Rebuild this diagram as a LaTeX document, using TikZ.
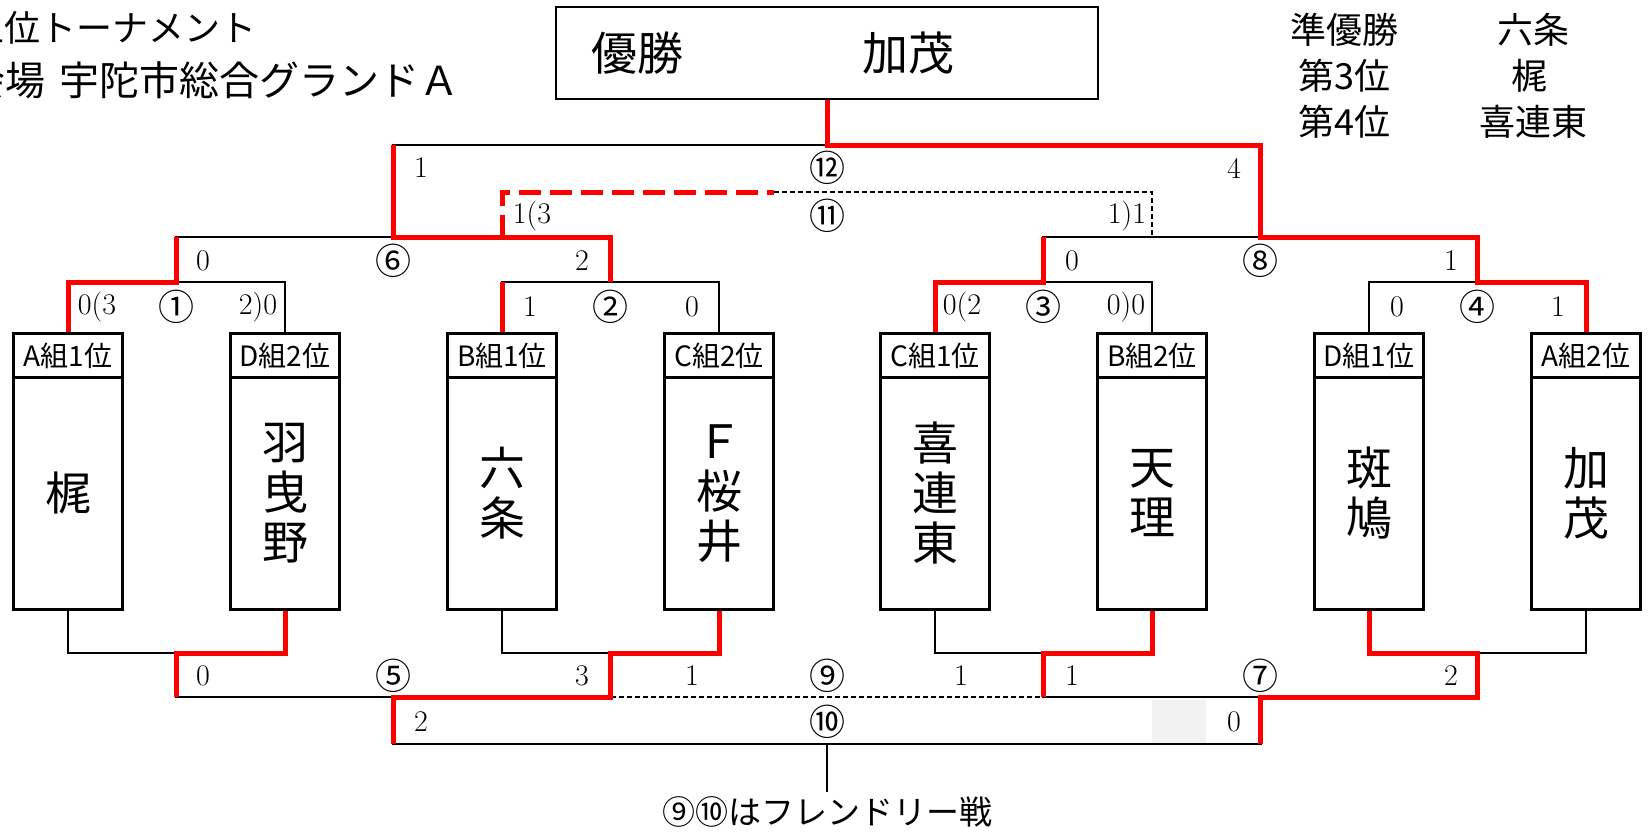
\documentclass[tikz,border=0pt]{standalone}
\usepackage{fontspec}
\newfontfamily\jp{Noto Sans CJK JP}
\begin{document}
\begin{tikzpicture}[x=1pt,y=-1pt,
  blk/.style={line width=2.8pt,black},
  rline/.style={line width=5pt,draw={rgb,255:red,255;green,0;blue,0}},
  dsh/.style={line width=2.2pt,black,dash pattern=on 5pt off 3pt},
  rdsh/.style={line width=5pt,draw={rgb,255:red,255;green,0;blue,0},dash pattern=on 22pt off 9pt},
  hbox/.style={draw,line width=2.8pt,minimum width=109pt,minimum height=44pt,inner sep=0pt,anchor=north,font=\fontsize{28}{28}\jp},
  bbox/.style={draw,line width=2.8pt,minimum width=109pt,minimum height=232pt,inner sep=0pt,anchor=north,align=center,font=\fontsize{46}{50}\jp},
  score/.style={inner sep=0pt,font=\fontsize{30}{30}\selectfont},
  circ/.style={inner sep=0pt,font=\fontsize{36}{36}\jp},
  ttl/.style={inner sep=0pt,font=\fontsize{36}{36}\jp},
]
\useasboundingbox (0,0) rectangle (1651,836);
% title
\node[ttl,anchor=west] (t1) at (-32,28) {上位トーナメント};
\node[ttl,anchor=west,font=\fontsize{40}{40}\jp] (t2) at (-35,80) {会場\hspace{14pt}宇陀市総合グランドＡ};
% results
\node[ttl] (r1a) at (1344,30) {準優勝};
\node[ttl] (r1b) at (1533,30) {六条};
\node[ttl] (r2a) at (1344,76) {第3位};
\node[ttl] (r2b) at (1529,76) {梶};
\node[ttl] (r3a) at (1344,122) {第4位};
\node[ttl] (r3b) at (1533,122) {喜連東};
% winner box
\node[draw,line width=2.8pt,minimum width=542pt,minimum height=92pt,inner sep=0pt] (win) at (827,53) {};
\node[inner sep=0pt,font=\fontsize{46}{46}\jp] (wa) at (637,53) {優勝};
\node[inner sep=0pt,font=\fontsize{46}{46}\jp] (wb) at (908,53) {加茂};
% shaded cell
\fill[gray!10] (1152,700) rectangle (1206,743);
% teams
\node[hbox] (h1) at (68,332) {A組1位};
\node[hbox] (h2) at (285,332) {D組2位};
\node[hbox] (h3) at (502,332) {B組1位};
\node[hbox] (h4) at (719,332) {C組2位};
\node[hbox] (h5) at (935,332) {C組1位};
\node[hbox] (h6) at (1152,332) {B組2位};
\node[hbox] (h7) at (1369,332) {D組1位};
\node[hbox] (h8) at (1586,332) {A組2位};
\node[bbox] (b1) at (68,376) {梶};
\node[bbox] (b2) at (285,376) {羽\\曳\\野};
\node[bbox] (b3) at (502,376) {六\\条};
\node[bbox] (b4) at (719,376) {Ｆ\\桜\\井};
\node[bbox] (b5) at (935,376) {喜\\連\\東};
\node[bbox] (b6) at (1152,376) {天\\理};
\node[bbox] (b7) at (1369,376) {斑\\鳩};
\node[bbox] (b8) at (1586,376) {加\\茂};
% coordinates
\coordinate (m1) at (176.5,282);
\coordinate (m2) at (610.5,282);
\coordinate (m3) at (1043.5,282);
\coordinate (m4) at (1477.5,282);
\coordinate (m6) at (393.5,237);
\coordinate (m8) at (1260.5,237);
\coordinate (m12) at (827,145);
\coordinate (q) at (774,192);
\coordinate (n5a) at (176.5,653);
\coordinate (n5b) at (610.5,653);
\coordinate (n7a) at (1043.5,653);
\coordinate (n7b) at (1477.5,653);
\coordinate (n5) at (393.5,697);
\coordinate (n7) at (1260.5,697);
\coordinate (n10) at (827,744);
\coordinate (stem) at (827,792);
% black lines top
\draw[blk] (h1.north) |- (m1) -| (h2.north);
\draw[blk] (h3.north) |- (m2) -| (h4.north);
\draw[blk] (h5.north) |- (m3) -| (h6.north);
\draw[blk] (h7.north) |- (m4) -| (h8.north);
\draw[blk] (m1) |- (m6) -| (m2);
\draw[blk] (m3) |- (m8) -| (m4);
\draw[blk] (m6) |- (m12) -| (m8);
\draw[blk] (m12) -- (win.south);
\draw[dsh] (q) -| (h6.north |- m8);
% black lines bottom
\draw[blk] (b1.south) |- (n5a) -| (b2.south);
\draw[blk] (b3.south) |- (n5b) -| (b4.south);
\draw[blk] (b5.south) |- (n7a) -| (b6.south);
\draw[blk] (b7.south) |- (n7b) -| (b8.south);
\draw[blk] (n5a) |- (n5) -| (n5b);
\draw[blk] (n7a) |- (n7) -| (n7b);
\draw[dsh] (n5b |- n5) -- (n7a |- n7);
\draw[blk] (n5) |- (n10) -| (n7);
\draw[blk] (n10) -- (stem);
% red lines top
\draw[rline] (h1.north) |- (m1) -- (m1 |- m6);
\draw[rline] (h3.north) -- (h3.north |- m2);
\draw[rline] (m2) |- (m6) -- (m6 |- m12);
\draw[rline] (h5.north) |- (m3) -- (m3 |- m8);
\draw[rline] (h8.north) |- (m4) |- (m8) |- (m12) -- (win.south);
\draw[rdsh] (h3.north |- m6) |- (q);
% red lines bottom
\draw[rline] (b2.south) |- (n5a) -- (n5a |- n5);
\draw[rline] (b4.south) |- (n5b) |- (n5) -- (n5 |- n10);
\draw[rline] (b6.south) |- (n7a) -- (n7a |- n7);
\draw[rline] (b7.south) |- (n7b) |- (n7) -- (n7 |- n10);
% labels row 307
\node[score] (s1a) at (97,307) {0(3};
\node[circ] (c1) at (176.5,307) {①};
\node[score] (s1b) at (258,307) {2)0};
\node[score] (s2a) at (530,307) {1};
\node[circ] (c2) at (610.5,307) {②};
\node[score] (s2b) at (692,307) {0};
\node[score] (s3a) at (962,307) {0(2};
\node[circ] (c3) at (1043.5,307) {③};
\node[score] (s3b) at (1126,307) {0)0};
\node[score] (s4a) at (1397,307) {0};
\node[circ] (c4) at (1477.5,307) {④};
\node[score] (s4b) at (1558,307) {1};
% row 261
\node[score] (s6a) at (203,261) {0};
\node[circ] (c6) at (393.5,261) {⑥};
\node[score] (s6b) at (582,261) {2};
\node[score] (s8a) at (1072,261) {0};
\node[circ] (c8) at (1260.5,261) {⑧};
\node[score] (s8b) at (1451,261) {1};
% row 216
\node[score] (s11a) at (532,216) {1(3};
\node[circ] (c11) at (827,216) {⑪};
\node[score] (s11b) at (1127,216) {1)1};
% row 168
\node[score] (s12a) at (421,168) {1};
\node[circ] (c12) at (827,168) {⑫};
\node[score] (s12b) at (1234,168) {4};
% bottom row 676
\node[score] (s5a) at (203,676) {0};
\node[circ] (c5) at (393.5,676) {⑤};
\node[score] (s5b) at (582,676) {3};
\node[score] (s9a) at (692,676) {1};
\node[circ] (c9) at (827,676) {⑨};
\node[score] (s9b) at (961,676) {1};
\node[score] (s7a) at (1072,676) {1};
\node[circ] (c7) at (1260.5,676) {⑦};
\node[score] (s7b) at (1451,676) {2};
% row 722
\node[score] (s10a) at (421,722) {2};
\node[circ] (c10) at (827,722) {⑩};
\node[score] (s10b) at (1234,722) {0};
% footer
\node[inner sep=0pt,font=\fontsize{33}{33}\jp] (foot) at (827,812) {⑨⑩はフレンドリー戦};
\end{tikzpicture}
\end{document}
